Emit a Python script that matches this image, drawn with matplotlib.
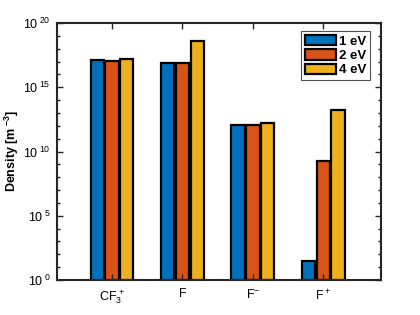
import matplotlib
matplotlib.use("Agg")
import matplotlib.pyplot as plt
import numpy as np
from matplotlib.ticker import FixedLocator, NullFormatter

plt.rcParams["font.family"] = ["Liberation Sans", "DejaVu Sans"]
plt.rcParams["mathtext.fontset"] = "custom"
plt.rcParams["mathtext.rm"] = "Liberation Sans"
plt.rcParams["mathtext.it"] = "Liberation Sans"
plt.rcParams["mathtext.bf"] = "Liberation Sans:bold"

# data
species = [r"CF$_3^{\,+}$", "F", r"F$^{\mathregular{-}}$", r"F$^+$"]
energies = ["1 eV", "2 eV", "4 eV"]
dens_1eV = [1.23e17, 7.9e16, 1.26e12, 32.0]
dens_2eV = [1.17e17, 7.9e16, 1.2e12, 1.7e9]
dens_4eV = [1.45e17, 4.2e18, 1.6e12, 1.8e13]
colors = ["#0072BD", "#D95319", "#EDB120"]

fig = plt.figure(figsize=(4.2, 3.15), dpi=100)
ax = fig.add_axes([0.136, 0.111, 0.771, 0.816])

x = np.arange(1, len(species) + 1)
width = 0.19
offsets = [-0.21, 0.0, 0.21]
for vals, off, c, lab in zip([dens_1eV, dens_2eV, dens_4eV], offsets, colors, energies):
    ax.bar(x + off, np.array(vals) - 1, width, bottom=1, color=c, edgecolor="black",
           linewidth=1.6, label=lab)

ax.set_yscale("log")
ax.set_ylim(1, 1e20)
ax.set_xlim(0.22, 4.82)

ax.yaxis.set_major_locator(FixedLocator([1e0, 1e5, 1e10, 1e15, 1e20]))
ax.set_yticklabels([r"$\mathregular{10^{\;%d}}$" % e for e in [0, 5, 10, 15, 20]])
ax.yaxis.set_minor_locator(FixedLocator([10.0 ** e for e in range(21) if e % 5]))
ax.yaxis.set_minor_formatter(NullFormatter())
ax.set_xticks(x)
ax.set_xticklabels(species)

ax.tick_params(which="both", direction="in", top=True, right=True, labelsize=9,
               color="#262626", width=1.0)
ax.tick_params(which="major", length=4)
ax.tick_params(which="minor", length=2.5)
ax.tick_params(axis="x", pad=6)
ax.tick_params(axis="y", pad=5)
for s in ax.spines.values():
    s.set_color("#262626")
    s.set_linewidth(1.5)

ax.set_ylabel(r"Density [m$^{\;\mathregular{-3}}$]", fontsize=9, fontweight="bold", labelpad=1)

leg = ax.legend(loc="upper right", bbox_to_anchor=(0.975, 0.98),
                prop={"weight": "bold", "size": 9.5}, frameon=True, fancybox=False,
                handlelength=2.4, handleheight=0.85, handletextpad=0.2,
                borderpad=0.3, labelspacing=0.12, borderaxespad=0.2)
leg.get_frame().set_edgecolor("#262626")
leg.get_frame().set_linewidth(0.8)

fig.savefig("out.png", dpi=100)
